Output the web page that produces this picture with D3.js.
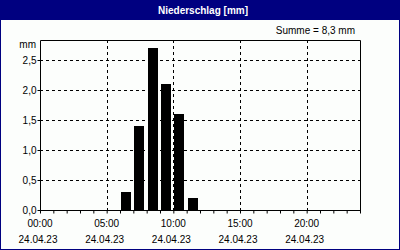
<!DOCTYPE html>
<html><head><meta charset="utf-8">
<script src="https://cdn.jsdelivr.net/npm/d3@7"></script>
<style>
html,body{margin:0;padding:0;background:#fff;}
text{font-family:"Liberation Sans",Arial,sans-serif;font-size:10px;}
</style></head>
<body>
<script>
const title = "Niederschlag [mm]";
const sumLabel = "Summe = 8,3 mm";
const unitLabel = "mm";
const hours = [6, 7, 8, 9, 10, 11];
const values = [0.3, 1.4, 2.7, 2.1, 1.6, 0.2];
const yTicks = [0, 0.5, 1.0, 1.5, 2.0, 2.5];
const xTicks = [0, 5, 10, 15, 20];
const xTimeLabels = ["00:00", "05:00", "10:00", "15:00", "20:00"];
const dateLabel = "24.04.23";

const W = 400, H = 250;
const navy = "#000080";
const svg = d3.select("body").append("svg").attr("width", W).attr("height", H);
svg.append("rect").attr("x",0).attr("y",0).attr("width",W).attr("height",H).attr("fill","#fcfefc");
svg.append("rect").attr("x",0.5).attr("y",0.5).attr("width",W-1).attr("height",H-1).attr("fill","none").attr("stroke",navy).attr("stroke-width",1);
svg.append("rect").attr("x",0).attr("y",0).attr("width",W).attr("height",20).attr("fill",navy);
svg.append("text").attr("x",203).attr("y",14).attr("text-anchor","middle").attr("fill","#fff").attr("font-weight","bold").text(title);
svg.append("text").attr("x",355).attr("y",34).attr("text-anchor","end").attr("fill","#000").text(sumLabel);
svg.append("text").attr("x",36).attr("y",48).attr("text-anchor","end").attr("fill","#000").text(unitLabel);

const x = d3.scaleLinear().domain([0,24]).range([40,360]);
const y = d3.scaleLinear().domain([0, 2.5*170/150]).range([210,40]);

const g = svg.append("g");
// grid
g.selectAll(".hg").data(yTicks.slice(1)).join("line")
 .attr("x1",40).attr("x2",360).attr("y1",d=>Math.round(y(d))+0.5).attr("y2",d=>Math.round(y(d))+0.5)
 .attr("stroke","#000").attr("stroke-dasharray","3,3");
g.selectAll(".vg").data(xTicks.slice(1)).join("line")
 .attr("y1",40).attr("y2",210).attr("x1",d=>Math.round(x(d))+0.5).attr("x2",d=>Math.round(x(d))+0.5)
 .attr("stroke","#000").attr("stroke-dasharray","3,3");

// bars
g.selectAll(".bar").data(values).join("rect")
 .attr("x",(d,i)=>Math.round(x(hours[i]))+1)
 .attr("width",(d,i)=>10)
 .attr("y",d=>Math.round(y(d)))
 .attr("height",d=>210-Math.round(y(d)))
 .attr("fill","#000");

// frame
g.append("path").attr("d","M40.5,40.5H360.5V210.5").attr("fill","none").attr("stroke","#000");

// axes
const yAxis = d3.axisLeft(y).tickValues(yTicks).tickSize(3).tickFormat(d=>d3.format(".1f")(d).replace(".",","));
const ya = svg.append("g").attr("transform","translate(40.5,0)").call(yAxis);
ya.select(".domain").attr("d","M0,40.5V210.5").attr("stroke","#000");
ya.selectAll(".tick line").attr("stroke","#000");
ya.selectAll(".tick text").attr("fill","#000").attr("x",-4).attr("font-size","10px").attr("font-family","Liberation Sans");

const xAxis = d3.axisBottom(x).tickValues(d3.range(0,25)).tickSize(3).tickFormat("");
const xa = svg.append("g").attr("transform","translate(0,210.5)").call(xAxis);
xa.select(".domain").attr("d","M40,0H361").attr("stroke","#000");
xa.selectAll(".tick line").attr("stroke","#000");

svg.selectAll(".xl").data(xTicks).join("text")
 .attr("x",d=>x(d)).attr("y",227).attr("text-anchor","middle").attr("fill","#000")
 .text((d,i)=>xTimeLabels[i]);
svg.selectAll(".xd").data(xTicks).join("text")
 .attr("x",d=>x(d)-2).attr("y",243).attr("text-anchor","middle").attr("fill","#000")
 .text(dateLabel);
</script>
</body></html>
